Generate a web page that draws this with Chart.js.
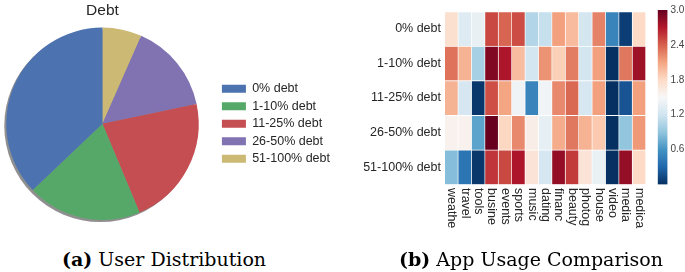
<!DOCTYPE html>
<html>
<head>
<meta charset="utf-8">
<script src="https://cdn.jsdelivr.net/npm/chart.js@4.4.0/dist/chart.umd.min.js"></script>
<style>
  body { margin: 0; width: 685px; height: 272px; background: #fff; position: relative; overflow: hidden; }
  canvas { position: absolute; top: 0; }
  #pieChart { left: -12px; }
  #heatChart { left: 360px; }
  #barChart { left: 650px; }
  .cap { position: absolute; top: 250px; font: 19px/19px "DejaVu Serif", serif; color: #000; white-space: nowrap; }
</style>
</head>
<body>
<canvas id="pieChart" width="360" height="230"></canvas>
<canvas id="heatChart" width="290" height="272"></canvas>
<canvas id="barChart" width="35" height="272"></canvas>
<div class="cap" style="left:62px"><b>(a)</b> User Distribution</div>
<div class="cap" style="left:399px"><b>(b)</b> App Usage Comparison</div>
<script>
// pie data (share of users, %)
const debtLevels = ['0% debt', '1-10% debt', '11-25% debt', '26-50% debt', '51-100% debt'];
const debtShare = [37.1, 19.2, 22.0, 15.1, 6.6];
const pieColors = ['#4c72b0', '#55a868', '#c44e52', '#8172b2', '#ccb974'];

// heatmap data
const apps = ['weathe', 'travel', 'tools', 'busine', 'events', 'sports', 'music', 'dating',
  'financ', 'beauty', 'photog', 'house', 'video', 'media', 'medica'];
const usage0 = [1.75, 1.30, 1.38, 2.50, 2.38, 2.48, 1.05, 1.15, 2.12, 1.98, 1.22, 2.25, 0.50, 0.08, 1.80];
const usage1_10 = [2.32, 2.02, 1.00, 2.90, 2.72, 1.97, 1.22, 2.18, 1.86, 2.28, 1.22, 2.12, 0.00, 2.30, 2.78];
const usage11_25 = [2.02, 1.24, 0.04, 2.47, 2.10, 1.44, 0.50, 1.45, 2.22, 2.36, 1.24, 2.12, 0.00, 0.20, 2.12];
const usage26_50 = [1.56, 1.56, 0.70, 3.00, 1.82, 2.22, 1.60, 1.36, 2.06, 2.30, 2.02, 1.90, 0.00, 0.90, 2.15];
const usage51_100 = [0.85, 0.40, 0.04, 2.58, 2.50, 2.72, 1.70, 1.24, 2.82, 2.56, 1.70, 1.40, 0.00, 2.82, 1.80];
const usageRows = [usage0, usage1_10, usage11_25, usage26_50, usage51_100];

// colorbar
const cbMin = 0;
const cbMax = 3.0;
const cbTicks = [0.6, 1.2, 1.8, 2.4, 3.0];

const textColor = '#262626';
Chart.defaults.font.family = '"Liberation Sans", Arial, sans-serif';
Chart.defaults.color = textColor;

// RdBu_r
const rdbu = ['#053061', '#2166ac', '#4393c3', '#92c5de', '#d1e5f0', '#f7f7f7',
  '#fddbc7', '#f4a582', '#d6604d', '#b2182b', '#67001f'];

function hexRgb(h) {
  return [parseInt(h.slice(1, 3), 16), parseInt(h.slice(3, 5), 16), parseInt(h.slice(5, 7), 16)];
}

function heatColor(v) {
  var t = Math.max(0, Math.min(1, (v - cbMin) / (cbMax - cbMin))) * (rdbu.length - 1);
  var i = Math.min(rdbu.length - 2, Math.floor(t));
  var f = t - i;
  var a = hexRgb(rdbu[i]);
  var b = hexRgb(rdbu[i + 1]);
  return 'rgb(' + a.map((c, k) => Math.round(c + (b[k] - c) * f)).join(',') + ')';
}

// matplotlib style shadow under the pie
const pieShadow = {
  id: 'pieShadow',
  beforeDatasetsDraw(chart) {
    const arc = chart.getDatasetMeta(0).data[0];
    if (!arc) return;
    const ctx = chart.ctx;
    ctx.save();
    ctx.fillStyle = 'rgba(0,0,0,0.44)';
    ctx.beginPath();
    ctx.arc(arc.x - 2, arc.y + 2, arc.outerRadius, 0, Math.PI * 2);
    ctx.fill();
    ctx.restore();
  }
};

// pie goes counter-clockwise in the original, so feed it reversed
new Chart(document.getElementById('pieChart'), {
  type: 'pie',
  data: {
    labels: debtLevels.slice().reverse(),
    datasets: [{
      data: debtShare.slice().reverse(),
      backgroundColor: pieColors.slice().reverse(),
      borderWidth: 0,
    }],
  },
  options: {
    responsive: false,
    animation: false,
    layout: { padding: { top: 0, bottom: 10, left: 0, right: 8 } },
    plugins: {
      title: {
        display: true,
        text: 'Debt',
        fullSize: false,
        color: textColor,
        font: { size: 15.5, weight: 'normal' },
        padding: { top: 1, bottom: 8 },
      },
      legend: {
        position: 'right',
        fullSize: false,
        reverse: true,
        labels: { boxWidth: 24, boxHeight: 8, padding: 5, color: textColor, font: { size: 12.5 } },
      },
      tooltip: { enabled: false },
    },
  },
  plugins: [pieShadow],
});

// rotated app names under the heatmap
const appLabels = {
  id: 'appLabels',
  afterDraw(chart) {
    const xs = chart.scales.x;
    const ctx = chart.ctx;
    ctx.save();
    ctx.font = '12.5px "Liberation Sans", Arial, sans-serif';
    ctx.fillStyle = textColor;
    ctx.textAlign = 'left';
    ctx.textBaseline = 'middle';
    apps.forEach((name, i) => {
      ctx.save();
      ctx.translate(xs.getPixelForValue(i), chart.chartArea.bottom + 3.5);
      ctx.rotate(Math.PI / 2);
      ctx.fillText(name, 0, 0);
      ctx.restore();
    });
    ctx.restore();
  }
};

// heatmap as stacked unit bars, top row = first debt level
const heatSets = debtLevels.map((name, r) => ({
  label: name,
  data: apps.map(() => 1),
  backgroundColor: usageRows[r].map(heatColor),
  borderColor: '#ffffff',
  borderWidth: { top: 1, right: 1, bottom: 0, left: 0 },
  borderSkipped: false,
  barPercentage: 1,
  categoryPercentage: 1,
})).reverse();

new Chart(document.getElementById('heatChart'), {
  type: 'bar',
  data: { labels: apps, datasets: heatSets },
  options: {
    responsive: false,
    animation: false,
    layout: { padding: { top: 9.5, bottom: 87.5, left: 0, right: 4 } },
    scales: {
      x: { display: false, stacked: true },
      y: {
        stacked: true,
        min: 0,
        max: debtLevels.length,
        grid: { display: false, drawTicks: false },
        border: { display: false },
        afterBuildTicks: s => { s.ticks = debtLevels.map((n, i) => ({ value: debtLevels.length - 0.5 - i })); },
        afterFit: s => { s.width = 85; },
        ticks: {
          padding: 4,
          color: textColor,
          font: { size: 12.5 },
          callback: v => debtLevels[Math.round(debtLevels.length - 0.5 - v)],
        },
      },
    },
    plugins: { legend: { display: false }, tooltip: { enabled: false } },
  },
  plugins: [appLabels],
});

// colorbar
function cbGradient(c) {
  const a = c.chart.chartArea;
  if (!a) return rdbu[5];
  const g = c.chart.ctx.createLinearGradient(0, a.bottom, 0, a.top);
  rdbu.forEach((col, i) => g.addColorStop(i / (rdbu.length - 1), col));
  return g;
}

new Chart(document.getElementById('barChart'), {
  type: 'bar',
  data: {
    labels: [''],
    datasets: [{ data: [cbMax], backgroundColor: cbGradient, borderWidth: 0, barPercentage: 1, categoryPercentage: 1 }],
  },
  options: {
    responsive: false,
    animation: false,
    layout: { padding: { top: 10, bottom: 87.5, left: 7.7, right: 0 } },
    scales: {
      x: { display: false },
      y: {
        position: 'right',
        min: cbMin,
        max: cbMax,
        grid: { display: false, drawTicks: false },
        border: { display: false },
        afterBuildTicks: s => { s.ticks = cbTicks.map(v => ({ value: v })); },
        afterFit: s => { s.width = 17.5; },
        ticks: { padding: 3, color: '#444', font: { size: 10 }, callback: v => v.toFixed(1) },
      },
    },
    plugins: { legend: { display: false }, tooltip: { enabled: false } },
  },
});
</script>
</body>
</html>
